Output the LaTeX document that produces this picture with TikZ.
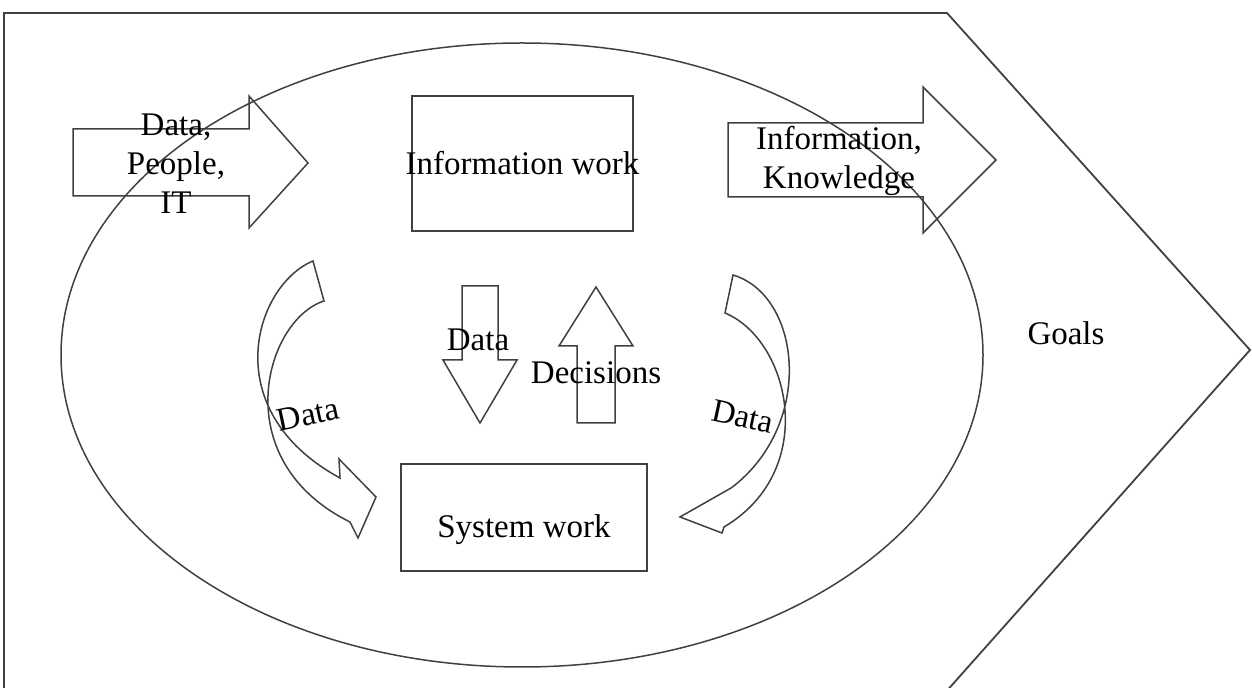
\documentclass[tikz,border=0pt]{standalone}
\usepackage{fontspec}
\setmainfont{Liberation Serif}
\begin{document}
\begin{tikzpicture}[x=0.5pt,y=-0.5pt,
  outline/.style={draw=black!75,line width=0.75pt,line join=miter},
  boxshape/.style={outline,rectangle,inner sep=0pt},
  lbl/.style={inner sep=0pt,align=center,font=\fontsize{16.5}{19.5}\selectfont}]
\useasboundingbox (0,0) rectangle (1252,688);
\clip (0,0) rectangle (1252,688);

% goal chevron around the whole process
\draw[outline,line width=0.9pt] (4,694) -- (4,13) -- (947,13) -- (1250,350) -- (944,694);
\node[lbl] (goals) at (1066,333) {Goals};

% organisation boundary
\draw[outline] (522,355) ellipse [x radius=461, y radius=312];

% work boxes
\node[boxshape,minimum width=110.5pt,minimum height=67.5pt] (info) at (522.5,163.5) {};
\node[lbl] (infotext) at (522.5,163) {Information work};
\node[boxshape,minimum width=123pt,minimum height=53.5pt] (sys) at (524,517.5) {};
\node[lbl] (systext) at (524,530) {System work};

% input arrow
\draw[outline] (73,129) -- (249,129) -- (249,96) -- (308,163) -- (249,228) -- (249,196) -- (73,196) -- cycle;
\node[lbl] (inputs) at (176,164) {Data,\\People,\\IT};

% output arrow
\draw[outline] (728,123) -- (923,123) -- (923,87) -- (996,160) -- (923,233) -- (923,197) -- (728,197) -- cycle;
\node[lbl] (outputs) at (839,161) {Information,\\Knowledge};

% downward arrow: data to information work
\draw[outline] (462,286) -- (498,286) -- (498,360) -- (517,360) -- (480,423) -- (443,360) -- (462,360) -- cycle;
\node[lbl] (downdata) at (478,340) {Data};

% upward arrow: decisions to system work
\draw[outline] (577,423) -- (615,423) -- (615,346) -- (633,346) -- (596,287) -- (559,346) -- (577,346) -- cycle;
\node[lbl] (decisions) at (596,373) {Decisions};

% curved arrow on the left
\draw[outline] (313,261) .. controls (255,285) and (215,410) .. (340,478)
  -- (339,459) -- (376,497) -- (358,538) -- (350,522)
  .. controls (225,460) and (265,320) .. (324,301) -- cycle;
\node[lbl,rotate=12] (leftdata) at (308,415) {Data};

% curved arrow on the right
\draw[outline] (733,275) .. controls (800,295) and (815,420) .. (735,485)
  -- (731,488) -- (680,517) -- (722,533) -- (724,527)
  .. controls (820,470) and (790,340) .. (725,313) -- cycle;
\node[lbl,rotate=-12] (rightdata) at (743,417) {Data};
\end{tikzpicture}
\end{document}
